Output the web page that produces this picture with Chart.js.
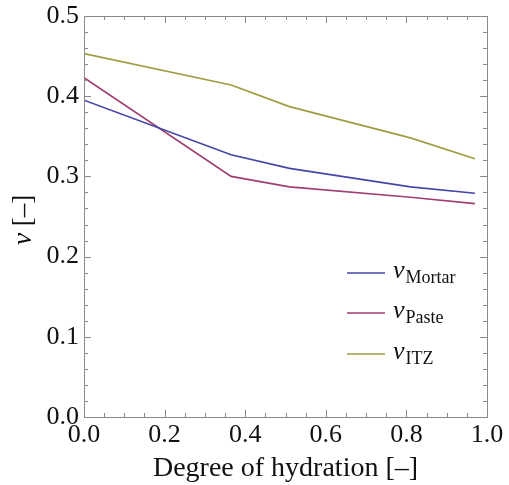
<!DOCTYPE html>
<html>
<head>
<meta charset="utf-8">
<script src="https://cdn.jsdelivr.net/npm/chart.js@4.4.1/dist/chart.umd.min.js"></script>
<style>
  html, body { margin: 0; padding: 0; background: #fff; }
  #wrap { width: 509px; height: 485px; }
</style>
</head>
<body>
<div id="wrap"><canvas id="c" width="509" height="485"></canvas></div>
<script>
// degree of hydration (x) and Poisson ratios
const hydration = [0.0, 0.365, 0.51, 0.81, 0.97];
const nuMortar = [0.395, 0.327, 0.310, 0.287, 0.279];
const nuPaste  = [0.423, 0.300, 0.287, 0.274, 0.266];
const nuITZ    = [0.453, 0.414, 0.387, 0.348, 0.322];

const seriesNames = ['Mortar', 'Paste', 'ITZ'];
const xTicks = [0.0, 0.2, 0.4, 0.6, 0.8, 1.0];
const yTicks = [0.0, 0.1, 0.2, 0.3, 0.4, 0.5];

const COLORS = {
  mortar: '#4646a6',
  paste: '#a03f72',
  itz: '#a09c42',
  frame: '#8a8a8a',
  text: '#111111',
};
const FONT = 'Liberation Serif';

function toPoints(ys) {
  return hydration.map((x, i) => ({ x: x, y: ys[i] }));
}

// frame + inward ticks (Mathematica style)
const frameTicks = {
  id: 'frameTicks',
  afterDatasetsDraw(chart) {
    const { ctx, chartArea: a, scales } = chart;
    ctx.save();
    ctx.strokeStyle = COLORS.frame;
    ctx.lineWidth = 1;
    ctx.strokeRect(a.left + 0.5, a.top + 0.5, a.right - a.left, a.bottom - a.top);
    ctx.beginPath();
    for (let i = 0; i <= 20; i++) {
      const px = Math.round(scales.x.getPixelForValue(i * 0.05)) + 0.5;
      const len = i % 4 === 0 ? 7 : 4;
      ctx.moveTo(px, a.bottom); ctx.lineTo(px, a.bottom - len);
      ctx.moveTo(px, a.top); ctx.lineTo(px, a.top + len);
    }
    for (let i = 0; i <= 25; i++) {
      const py = Math.round(scales.y.getPixelForValue(i * 0.02)) + 0.5;
      const len = i % 5 === 0 ? 7 : 4;
      ctx.moveTo(a.left, py); ctx.lineTo(a.left + len, py);
      ctx.moveTo(a.right, py); ctx.lineTo(a.right - len, py);
    }
    ctx.stroke();
    ctx.restore();
  },
  afterDraw(chart) {
    const { ctx } = chart;
    ctx.save();
    // y axis title: italic nu + [–]
    ctx.translate(24, 220);
    ctx.rotate(-Math.PI / 2);
    ctx.fillStyle = COLORS.text;
    ctx.textBaseline = 'middle';
    const f1 = 'italic 28px "' + FONT + '"';
    const f2 = '27px "' + FONT + '"';
    ctx.font = f1; const w1 = ctx.measureText('ν').width;
    ctx.font = f2; const w2 = ctx.measureText(' [–]').width;
    let x0 = -(w1 + w2) / 2;
    ctx.font = f1; ctx.fillText('ν', x0, 0);
    ctx.font = f2; ctx.fillText(' [–]', x0 + w1, 0);
    ctx.restore();

    // legend
    ctx.save();
    const ys = [273, 313, 354];
    chart.data.datasets.forEach((ds, i) => {
      ctx.strokeStyle = ds.borderColor;
      ctx.lineWidth = 1.5;
      ctx.beginPath();
      ctx.moveTo(347, ys[i]); ctx.lineTo(385, ys[i]);
      ctx.stroke();
      ctx.fillStyle = COLORS.text;
      ctx.textBaseline = 'alphabetic';
      ctx.font = 'italic 26px "' + FONT + '"';
      ctx.fillText('ν', 393, ys[i] + 5);
      const wn = ctx.measureText('ν').width;
      ctx.font = '18px "' + FONT + '"';
      ctx.fillText(seriesNames[i], 393 + wn + 1, ys[i] + 10);
    });
    ctx.restore();
  }
};

function lineDataset(label, ys, color) {
  return {
    label: label,
    data: toPoints(ys),
    borderColor: color,
    backgroundColor: color,
    borderWidth: 1.7,
    pointRadius: 0,
    fill: false,
    tension: 0,
  };
}

new Chart(document.getElementById('c'), {
  type: 'line',
  data: {
    datasets: [
      lineDataset('Mortar', nuMortar, COLORS.mortar),
      lineDataset('Paste', nuPaste, COLORS.paste),
      lineDataset('ITZ', nuITZ, COLORS.itz),
    ],
  },
  options: {
    responsive: false,
    animation: false,
    devicePixelRatio: 1,
    layout: { padding: { left: 0, top: 16, right: 22, bottom: 0 } },
    plugins: { legend: { display: false }, tooltip: { enabled: false } },
    scales: {
      x: {
        type: 'linear',
        min: 0, max: 1,
        afterBuildTicks: (s) => { s.ticks = xTicks.map(v => ({ value: v })); },
        afterFit: (s) => { s.height = 68; s.paddingLeft = 0; s.paddingRight = 0; },
        grid: { display: false, drawTicks: false },
        border: { display: false },
        ticks: {
          color: COLORS.text,
          padding: 3,
          maxRotation: 0,
          font: { family: FONT, size: 26 },
          callback: (v) => v.toFixed(1),
        },
        title: {
          display: true,
          text: 'Degree of hydration [–]',
          color: COLORS.text,
          font: { family: FONT, size: 28 },
          padding: { top: 0, bottom: 0 },
        },
      },
      y: {
        type: 'linear',
        min: 0, max: 0.5,
        afterBuildTicks: (s) => { s.ticks = yTicks.map(v => ({ value: v })); },
        afterFit: (s) => { s.width = 84; s.paddingTop = 0; s.paddingBottom = 0; },
        grid: { display: false, drawTicks: false },
        border: { display: false },
        ticks: {
          color: COLORS.text,
          padding: 5,
          font: { family: FONT, size: 26 },
          callback: (v) => v.toFixed(1),
        },
      },
    },
  },
  plugins: [frameTicks],
});
</script>
</body>
</html>
